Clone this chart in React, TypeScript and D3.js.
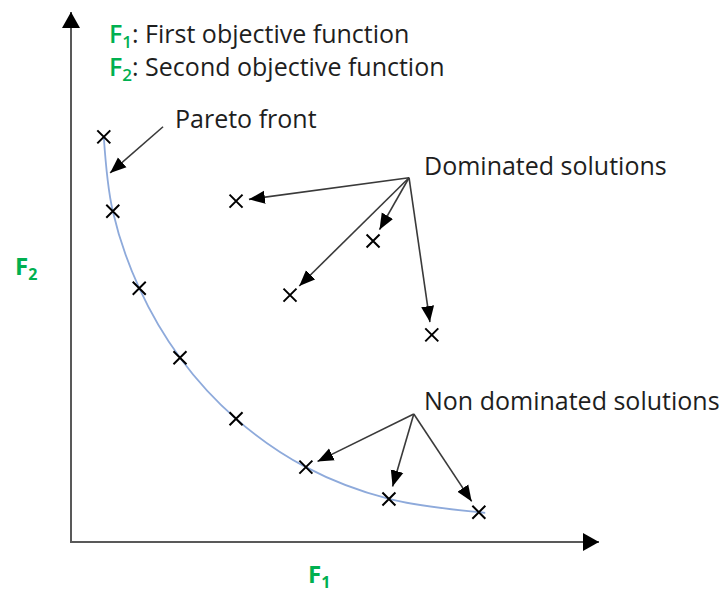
import React from "react";
import * as d3 from "d3";

// Data (arbitrary objective units, axes run 0..10)
const paretoF1 = [0.62, 0.79, 1.29, 2.06, 3.12, 4.44, 6.01, 7.71];
const paretoF2 = [7.63, 6.23, 4.78, 3.47, 2.32, 1.41, 0.81, 0.56];
const curveEnd = [7.83, 0.55];
const dominatedF1 = [3.12, 5.71, 4.14, 6.82];
const dominatedF2 = [6.42, 5.67, 4.65, 3.90];
const nonDominatedIdx = [5, 6, 7];
const dominatedLabelAnchor = [6.39, 6.86];
const nonDominatedLabelAnchor = [6.48, 2.41];
const paretoArrowFrom = [1.74, 7.82];
const paretoArrowTo = [0.74, 6.95];
const legendLines = [
  { sub: "1", text: ": First objective function" },
  { sub: "2", text: ": Second objective function" },
];

const W = 727;
const H = 592;
const GREEN = "#00b050";
const TEXT = "#1e1e1e";
const FONT = "'Open Sans', 'Noto Sans', sans-serif";

export default function App() {
  const x = d3.scaleLinear().domain([0, 10]).range([71, 600]);
  const y = d3.scaleLinear().domain([0, 10]).range([542, 11]);

  const pareto = paretoF1.map((v, i) => [v, paretoF2[i]]);
  const dominated = dominatedF1.map((v, i) => [v, dominatedF2[i]]);

  const line = d3
    .line<number[]>()
    .x((d) => x(d[0]))
    .y((d) => y(d[1]))
    .curve(d3.curveCatmullRom.alpha(0.5));
  const curvePath = line([...pareto, curveEnd]) || "";

  const gap = 13;
  const arrowTo = (from: number[], to: number[], g: number) => {
    const x1 = x(from[0]);
    const y1 = y(from[1]);
    const x2 = x(to[0]);
    const y2 = y(to[1]);
    const dx = x2 - x1;
    const dy = y2 - y1;
    const len = Math.hypot(dx, dy);
    return { x1, y1, x2: x2 - (dx / len) * g, y2: y2 - (dy / len) * g };
  };

  const arrows = [
    ...dominated.map((p) => arrowTo(dominatedLabelAnchor, p, gap)),
    ...nonDominatedIdx.map((i) => arrowTo(nonDominatedLabelAnchor, pareto[i], gap)),
    arrowTo(paretoArrowFrom, paretoArrowTo, 0),
  ];

  const cross = (p: number[], k: string) => {
    const cx = x(p[0]);
    const cy = y(p[1]);
    const s = 6.5;
    return (
      <path
        key={k}
        d={`M${cx - s},${cy - s}L${cx + s},${cy + s}M${cx - s},${cy + s}L${cx + s},${cy - s}`}
        stroke="#000"
        strokeWidth={2}
        fill="none"
      />
    );
  };

  return (
    <svg
      width={W}
      height={H}
      style={{ position: "absolute", left: 0, top: 0, background: "#fff" }}
      fontFamily={FONT}
    >
      <defs>
        <marker
          id="ah"
          markerUnits="userSpaceOnUse"
          markerWidth={18}
          markerHeight={14}
          refX={16}
          refY={7}
          orient="auto"
        >
          <path d="M0,0.5L16,7L0,13.5Z" fill="#000" />
        </marker>
        <marker
          id="axh"
          markerUnits="userSpaceOnUse"
          markerWidth={18}
          markerHeight={20}
          refX={16}
          refY={10}
          orient="auto"
        >
          <path d="M0,1L16,10L0,19Z" fill="#000" />
        </marker>
      </defs>

      {/* axes */}
      <line x1={x(0)} y1={y(0)} x2={x(10) - 1} y2={y(0)} stroke="#595959" strokeWidth={2} markerEnd="url(#axh)" />
      <line x1={x(0)} y1={y(0) + 1} x2={x(0)} y2={y(10) + 1} stroke="#595959" strokeWidth={2} markerEnd="url(#axh)" />

      {/* pareto curve */}
      <path d={curvePath} fill="none" stroke="#8eaadb" strokeWidth={1.8} />

      {/* arrows */}
      {arrows.map((a, i) => (
        <line
          key={i}
          x1={a.x1}
          y1={a.y1}
          x2={a.x2}
          y2={a.y2}
          stroke="#3a3a3a"
          strokeWidth={1.6}
          markerEnd="url(#ah)"
        />
      ))}

      {/* points */}
      {pareto.map((p, i) => cross(p, "p" + i))}
      {dominated.map((p, i) => cross(p, "d" + i))}

      {/* legend */}
      {legendLines.map((l, i) => (
        <text key={i} x={109} y={43 + i * 33} fontSize={25} fill={TEXT}>
          <tspan fill={GREEN} fontWeight={600}>F</tspan>
          <tspan fill={GREEN} fontWeight={600} fontSize={17} dy={5}>{l.sub}</tspan>
          <tspan dy={-5}>{l.text}</tspan>
        </text>
      ))}

      <text x={175} y={128} fontSize={25} fill={TEXT}>Pareto front</text>
      <text x={424} y={175} fontSize={25} fill={TEXT}>Dominated solutions</text>
      <text x={424} y={410} fontSize={25} fill={TEXT}>Non dominated solutions</text>

      {/* axis labels */}
      <text x={15} y={275} fontSize={24} fill={GREEN} fontWeight={700}>
        F<tspan fontSize={16} dy={5}>2</tspan>
      </text>
      <text x={308} y={583} fontSize={24} fill={GREEN} fontWeight={700}>
        F<tspan fontSize={16} dy={5}>1</tspan>
      </text>
    </svg>
  );
}
